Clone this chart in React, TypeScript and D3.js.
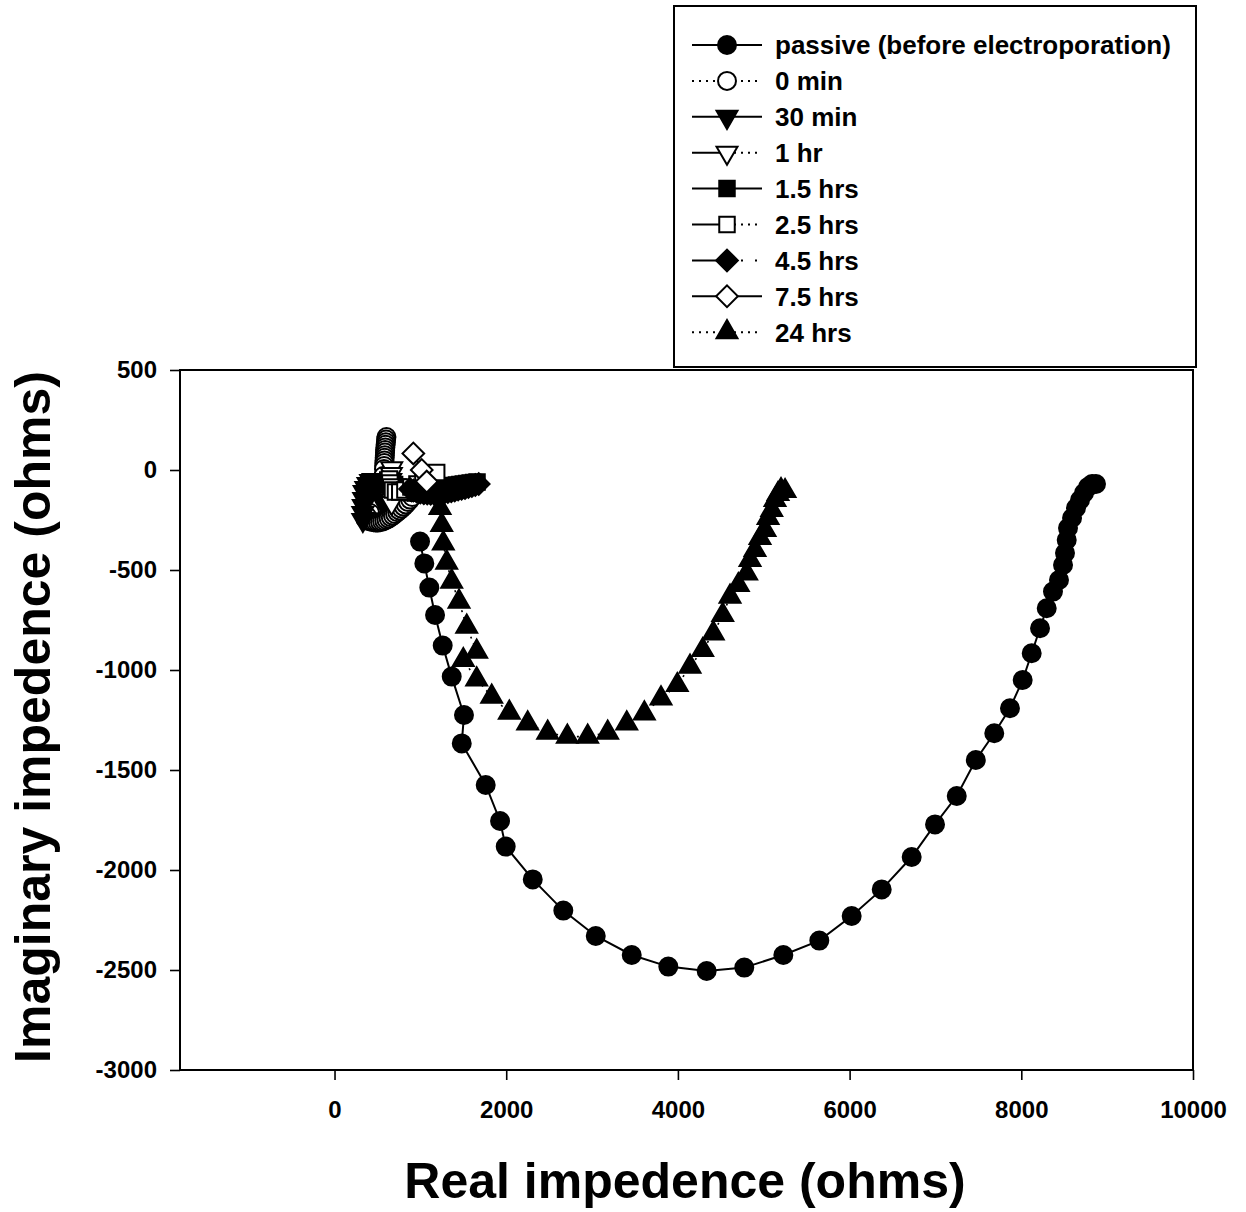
import React, { useRef, useEffect } from 'react';
import * as d3 from 'd3';

// values: [real, imaginary] in ohms
const passive = [
    [996, -358], [1046, -467], [1104, -588], [1171, -725], [1260, -878], [1365, -1033],
    [1508, -1225], [1482, -1367], [1761, -1575], [1928, -1755], [1994, -1883], [2309, -2047],
    [2665, -2203], [3043, -2330], [3462, -2425], [3888, -2483], [4335, -2505], [4773, -2488],
    [5228, -2425], [5647, -2353], [6024, -2230], [6374, -2097], [6723, -1935], [6995, -1772],
    [7248, -1630], [7470, -1450], [7685, -1316], [7868, -1191], [8016, -1050], [8121, -916],
    [8218, -791], [8296, -691], [8369, -608], [8439, -550], [8486, -475], [8509, -415],
    [8529, -350], [8544, -290], [8591, -240], [8637, -190], [8684, -150], [8730, -115],
    [8777, -85], [8824, -70], [8870, -70]
];
const min0 = [
    [605, 165], [601, 152], [598, 139], [595, 126], [592, 113], [590, 100], [588, 87],
    [586, 74], [584, 61], [582, 48], [580, 35], [578, 20], [576, 5], [568, -30], [550, -70],
    [520, -110], [485, -150], [450, -185], [415, -215], [385, -235], [360, -245], [380, -252],
    [405, -256], [430, -259], [455, -261], [480, -262], [505, -262], [530, -261], [555, -258],
    [580, -254], [605, -249], [630, -243], [655, -236], [680, -228], [705, -220], [730, -211],
    [755, -202], [780, -193], [805, -183], [830, -172], [855, -160], [880, -148], [905, -135]
];
const min30 = [
    [330, -250], [330, -215], [335, -180], [340, -145], [345, -110], [365, -90], [390, -70],
    [420, -55], [450, -50], [480, -60], [505, -85], [520, -115], [535, -140], [560, -150],
    [600, -140], [650, -120], [700, -100], [750, -90], [800, -88], [850, -90], [900, -94],
    [950, -97], [1000, -100], [1050, -102], [1100, -102], [1150, -100], [1200, -98]
];
const hr1 = [
    [666, 8], [662, -20], [655, -50], [650, -80], [648, -110], [652, -140], [665, -165]
];
const hr15 = [
    [620, -50], [660, -60], [700, -72], [740, -85], [780, -95], [820, -102], [860, -108],
    [900, -112], [940, -115], [980, -116], [1020, -116], [1060, -114], [1100, -110],
    [1140, -106], [1180, -100], [1220, -95], [1260, -90], [1300, -86], [1340, -82],
    [1380, -78], [1420, -75], [1460, -72], [1500, -70], [1540, -67], [1580, -65],
    [1620, -62], [1660, -60]
];
const hr25 = [
    [640, -45], [645, -65], [655, -85], [675, -100], [710, -110], [760, -110], [820, -100],
    [890, -85], [960, -70], [1030, -55], [1100, -35], [1190, -12]
];
const hr45 = [
    [880, -95], [920, -102], [960, -108], [1000, -113], [1040, -116], [1080, -118],
    [1120, -119], [1160, -119], [1200, -118], [1240, -116], [1280, -113], [1320, -110],
    [1360, -106], [1400, -102], [1440, -98], [1480, -94], [1520, -90], [1560, -85],
    [1600, -80], [1640, -75], [1680, -70]
];
const hr75 = [
    [918, 83], [1016, 0], [1074, -58]
];
const hr24 = [
    [1229, -190], [1249, -275], [1267, -367], [1307, -463], [1365, -558], [1450, -658],
    [1540, -783], [1656, -908], [1500, -950], [1656, -1047], [1831, -1133], [2036, -1213],
    [2250, -1267], [2483, -1313], [2712, -1333], [2949, -1333], [3182, -1313], [3404, -1267],
    [3609, -1217], [3803, -1142], [3993, -1075], [4141, -983], [4289, -900], [4412, -817],
    [4522, -725], [4607, -633], [4704, -575], [4801, -517], [4840, -450], [4898, -400],
    [4956, -340], [5015, -300], [5050, -240], [5093, -200], [5131, -150], [5166, -120],
    [5201, -100], [5248, -105]
];

const xTicks = [0, 2000, 4000, 6000, 8000, 10000];
const yTicks = [500, 0, -500, -1000, -1500, -2000, -2500, -3000];

const series = [
    { name: 'passive (before electroporation)', data: passive, symbol: 'circle', filled: true, line: 'solid', legend: ['solid', 'solid'] },
    { name: '0 min', data: min0, symbol: 'circle', filled: false, line: 'dot', legend: ['dot', 'dot'] },
    { name: '30 min', data: min30, symbol: 'down', filled: true, line: 'solid', legend: ['solid', 'solid'] },
    { name: '1 hr', data: hr1, symbol: 'down', filled: false, line: 'dot', legend: ['solid', 'dot'] },
    { name: '1.5 hrs', data: hr15, symbol: 'square', filled: true, line: 'solid', legend: ['solid', 'solid'] },
    { name: '2.5 hrs', data: hr25, symbol: 'square', filled: false, line: 'dot', legend: ['solid', 'dot'] },
    { name: '4.5 hrs', data: hr45, symbol: 'diamond', filled: true, line: 'dot', legend: ['solid', 'sparse'] },
    { name: '7.5 hrs', data: hr75, symbol: 'diamond', filled: false, line: 'solid', legend: ['solid', 'solid'] },
    { name: '24 hrs', data: hr24, symbol: 'up', filled: true, line: 'dot', legend: ['dot', 'dot'] }
];

const FONT = 'Liberation Sans, Arial, Helvetica, sans-serif';
const W = 1246, H = 1212;
const dashOf = s => (s === 'dot' ? '2,5' : s === 'sparse' ? '2,12' : null);

const symbolPath = {
    circle: d3.symbol(d3.symbolCircle, 254)(),
    up: d3.symbol(d3.symbolTriangle, 190)(),
    down: d3.symbol(d3.symbolTriangle, 190)(),
    square: d3.symbol(d3.symbolSquare, 240)(),
    diamond: d3.symbol(d3.symbolSquare, 235)()
};
const symbolRotate = { circle: 0, up: 0, down: 180, square: 0, diamond: 45 };

export default function App() {
    const svgRef = useRef();

    useEffect(() => {
        const svg = d3.select(svgRef.current);
        svg.selectAll('*').remove();

        const xScale = d3.scaleLinear().domain([-1800, 10000]).range([180, 1193]);
        const yScale = d3.scaleLinear().domain([-3000, 500]).range([1070, 370]);

        svg.append('rect').attr('width', W).attr('height', H).attr('fill', 'white');

        // axes
        const xAxis = d3.axisBottom(xScale).tickValues(xTicks).tickSize(10).tickPadding(21)
            .tickFormat(d => String(d));
        const yAxis = d3.axisLeft(yScale).tickValues(yTicks).tickSize(10).tickPadding(13)
            .tickFormat(d => String(d));

        const gx = svg.append('g').attr('transform', `translate(0,${yScale(-3000)})`).call(xAxis);
        const gy = svg.append('g').attr('transform', `translate(${xScale(-1800)},0)`).call(yAxis);
        [gx, gy].forEach(g => {
            g.select('.domain').remove();
            g.selectAll('line').attr('stroke', '#000').attr('stroke-width', 1.6);
            g.selectAll('text').attr('fill', '#000').style('font-family', FONT)
                .style('font-size', '24px').style('font-weight', 'bold');
        });

        // frame
        svg.append('rect')
            .attr('x', xScale(-1800)).attr('y', yScale(500))
            .attr('width', xScale(10000) - xScale(-1800)).attr('height', yScale(-3000) - yScale(500))
            .attr('fill', 'none').attr('stroke', '#000').attr('stroke-width', 2);

        // series
        const lineGen = d3.line().x(d => xScale(d[0])).y(d => yScale(d[1]));
        const content = svg.append('g');
        series.forEach(s => {
            content.append('path')
                .attr('d', lineGen(s.data))
                .attr('fill', 'none')
                .attr('stroke', '#000')
                .attr('stroke-width', s.line === 'solid' ? 2 : 1.6)
                .attr('stroke-dasharray', dashOf(s.line));
            content.selectAll(null)
                .data(s.data)
                .join('path')
                .attr('d', symbolPath[s.symbol])
                .attr('transform', d => `translate(${xScale(d[0])},${yScale(d[1])}) rotate(${symbolRotate[s.symbol]})`)
                .attr('fill', s.filled ? '#000' : '#fff')
                .attr('stroke', '#000')
                .attr('stroke-width', 2);
        });

        // legend
        svg.append('rect')
            .attr('x', 674).attr('y', 6).attr('width', 522).attr('height', 361)
            .attr('fill', '#fff').attr('stroke', '#000').attr('stroke-width', 2);
        const legend = svg.append('g');
        series.forEach((s, i) => {
            const y = 45 + i * 35.9;
            const cx = 727;
            legend.append('line').attr('x1', 692).attr('x2', cx).attr('y1', y).attr('y2', y)
                .attr('stroke', '#000').attr('stroke-width', 2).attr('stroke-dasharray', dashOf(s.legend[0]));
            legend.append('line').attr('x1', cx).attr('x2', 762).attr('y1', y).attr('y2', y)
                .attr('stroke', '#000').attr('stroke-width', 2).attr('stroke-dasharray', dashOf(s.legend[1]));
            legend.append('path')
                .attr('d', symbolPath[s.symbol])
                .attr('transform', `translate(${cx},${y}) rotate(${symbolRotate[s.symbol]})`)
                .attr('fill', s.filled ? '#000' : '#fff')
                .attr('stroke', '#000')
                .attr('stroke-width', 2);
            legend.append('text')
                .attr('x', 775).attr('y', y).attr('dy', '0.36em')
                .style('font-family', FONT).style('font-size', '26px').style('font-weight', 'bold')
                .text(s.name);
        });

        // axis titles
        svg.append('text')
            .attr('x', 685).attr('y', 1198)
            .attr('text-anchor', 'middle')
            .style('font-family', FONT).style('font-size', '50px').style('font-weight', 'bold')
            .text('Real impedence (ohms)');
        svg.append('text')
            .attr('transform', 'translate(50,717) rotate(-90)')
            .attr('text-anchor', 'middle')
            .style('font-family', FONT).style('font-size', '50px').style('font-weight', 'bold')
            .text('Imaginary impedence (ohms)');
    }, []);

    return (
        <svg ref={svgRef} width={W} height={H}
            style={{ position: 'absolute', left: 0, top: 0, display: 'block' }} />
    );
}
